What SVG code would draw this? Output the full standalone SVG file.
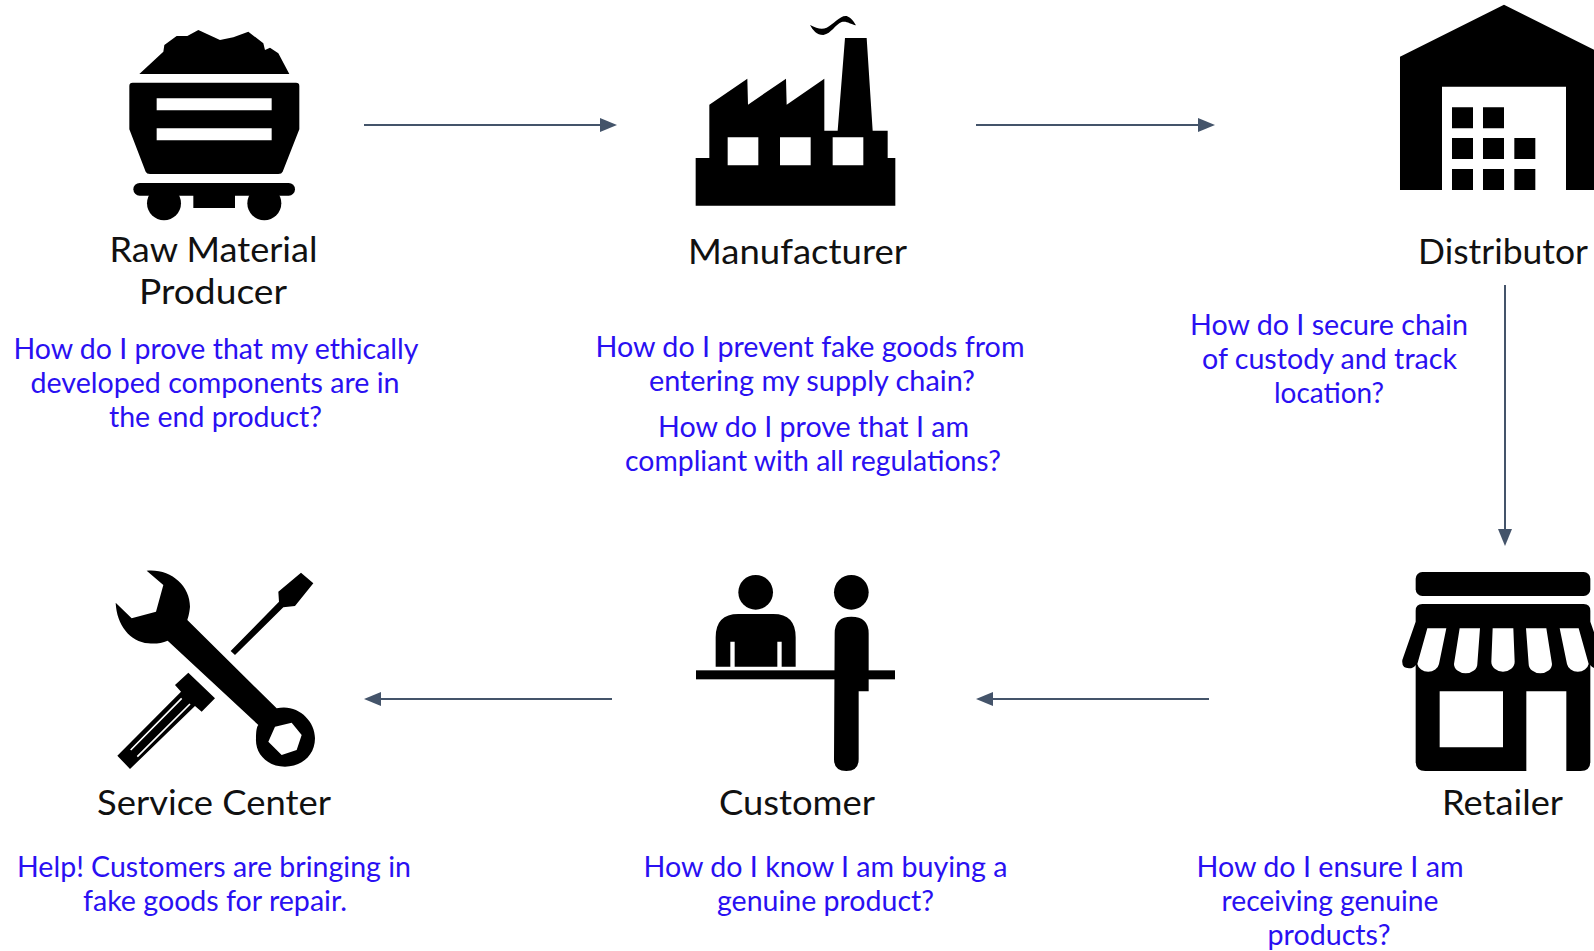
<svg xmlns="http://www.w3.org/2000/svg" width="1594" height="951" viewBox="0 0 1594 951">
<style>
.l{font-family:"Lato","Carlito","Liberation Sans",sans-serif;font-size:34.5px;fill:#111}
.q{font-family:"Lato","Carlito","Liberation Sans",sans-serif;font-size:28px;fill:#2a10f2}
.c{stroke:#44546a;stroke-width:2;fill:none;marker-end:url(#a)}
.i{fill-rule:evenodd}
</style>
<defs><marker id="a" markerUnits="userSpaceOnUse" markerWidth="18" markerHeight="18" refX="0" refY="9" orient="auto"><path d="M0 2L17 9L0 16Z" fill="#44546a"/></marker></defs>
<rect width="1594" height="951" fill="#fff"/>
<g id="connectors">
<line class="c" x1="364" y1="125" x2="600" y2="125"/>
<line class="c" x1="976" y1="125" x2="1198" y2="125"/>
<line class="c" x1="1505" y1="285" x2="1505" y2="529"/>
<line class="c" x1="1209" y1="699" x2="993" y2="699"/>
<line class="c" x1="612" y1="699" x2="381" y2="699"/>
</g>
<g id="raw-material-producer">
<g transform="translate(100 0) scale(.33333)">
<path d="M118 222L190 155L193 135L230 108L262 108L295 90L360 120L400 112L445 95L490 130L495 150L510 143L535 160L568 222Z"/>
<path class="i" d="M88 258Q88 248 98 248H588Q598 248 598 258V388L548 515Q545 522 535 522H150Q140 522 137 515L88 388ZM170 295V331H515V295ZM170 385V421H515V385Z"/>
<rect x="100" y="549" width="485" height="38" rx="19"/>
<circle cx="192" cy="610" r="51"/><circle cx="493" cy="610" r="51"/>
<rect x="280" y="580" width="125" height="44"/>
</g>
<text class="l" x="109.500" y="262" textLength="208" lengthAdjust="spacingAndGlyphs">Raw Material</text>
<text class="l" x="139" y="304" textLength="148" lengthAdjust="spacingAndGlyphs">Producer</text>
<text class="q" x="13.500" y="359" textLength="405" lengthAdjust="spacingAndGlyphs">How do I prove that my ethically</text>
<text class="q" x="30.500" y="393" textLength="369" lengthAdjust="spacingAndGlyphs">developed components are in</text>
<text class="q" x="109" y="427" textLength="213" lengthAdjust="spacingAndGlyphs">the end product?</text>
</g>
<g id="manufacturer">
<g transform="translate(660 0) scale(.33333)">
<path class="i" d="M107 474H148V314L262 236L264 314L378 236L380 314L493 236V392H533L555 114H620L638 392H683V474H706V617H107ZM203 412V496H295V412ZM360 412V496H452V412ZM518 412V496H610V412Z"/>
<path d="M450 75C470 85 485 90 500 83C520 73 540 45 560 48C572 52 582 65 588 76C570 72 560 62 545 66C525 74 515 100 490 105C470 105 458 90 450 75Z"/>
</g>
<text class="l" x="688" y="264" textLength="219" lengthAdjust="spacingAndGlyphs">Manufacturer</text>
<text class="q" x="595.500" y="357" textLength="429" lengthAdjust="spacingAndGlyphs">How do I prevent fake goods from</text>
<text class="q" x="649" y="391" textLength="326" lengthAdjust="spacingAndGlyphs">entering my supply chain?</text>
<text class="q" x="658" y="437" textLength="311" lengthAdjust="spacingAndGlyphs">How do I prove that I am</text>
<text class="q" x="625" y="471" textLength="376" lengthAdjust="spacingAndGlyphs">compliant with all regulations?</text>
</g>
<g id="distributor">
<g transform="translate(1354 0) scale(.33333)">
<path class="i" d="M138 170L450 14L762 170V570H636V260H264V570H138Z"/>
<path d="M294 322h63v63h-63zM387 322h63v63h-63zM294 414h63v63h-63zM387 414h63v63h-63zM481 414h63v63h-63zM294 507h63v63h-63zM387 507h63v63h-63zM481 507h63v63h-63z"/>
</g>
<text class="l" x="1418" y="264" textLength="170" lengthAdjust="spacingAndGlyphs">Distributor</text>
<text class="q" x="1190" y="335" textLength="278" lengthAdjust="spacingAndGlyphs">How do I secure chain</text>
<text class="q" x="1202" y="369" textLength="255" lengthAdjust="spacingAndGlyphs">of custody and track</text>
<text class="q" x="1274" y="403" textLength="110" lengthAdjust="spacingAndGlyphs">location?</text>
</g>
<g id="retailer">
<g transform="translate(1354 540) scale(.33333)">
<rect x="185" y="96" width="524" height="72" rx="20"/>
<path class="i" d="M205 192H689Q709 192 709 212V245L749 360Q752 385 729 385Q715 385 709 375V665Q709 693 680 693H637V454H517V693H214Q185 693 185 665V375Q179 385 165 385Q142 385 145 360L185 245V212Q185 192 205 192ZM257 454V622H447V454ZM220 265L190 372A33 28 0 0 0 255 372L277 265ZM317 265L300 372A35 28 0 0 0 370 372L378 265ZM416 265L412 365A35 30 0 0 0 482 365L478 265ZM516 265L524 372A35 28 0 0 0 594 372L577 265ZM617 265L639 372A33 28 0 0 0 704 372L674 265Z"/>
</g>
<text class="l" x="1442" y="815" textLength="121" lengthAdjust="spacingAndGlyphs">Retailer</text>
<text class="q" x="1196.500" y="877" textLength="267" lengthAdjust="spacingAndGlyphs">How do I ensure I am</text>
<text class="q" x="1221.500" y="911" textLength="217" lengthAdjust="spacingAndGlyphs">receiving genuine</text>
<text class="q" x="1267.500" y="945" textLength="123" lengthAdjust="spacingAndGlyphs">products?</text>
</g>
<g id="customer">
<g transform="translate(660 550) scale(.33333)">
<circle cx="287" cy="127" r="52"/><circle cx="574" cy="127" r="52"/>
<path d="M167 350V262Q167 192 235 192H340Q407 192 407 262V350H365V275H352V350H224V275H211V350Z"/>
<rect x="108" y="361" width="597" height="27"/>
<path d="M524 250Q524 200 574 200Q626 200 626 250V424H596V628Q596 663 559 663Q522 663 522 628Z"/>
</g>
<text class="l" x="719" y="815" textLength="156" lengthAdjust="spacingAndGlyphs">Customer</text>
<text class="q" x="643.500" y="877" textLength="364" lengthAdjust="spacingAndGlyphs">How do I know I am buying a</text>
<text class="q" x="717" y="911" textLength="217" lengthAdjust="spacingAndGlyphs">genuine product?</text>
</g>
<g id="service-center">
<g transform="translate(100 550) scale(.33333)">
<path class="i" d="M140 62C210 55 270 105 270 170C268 190 265 200 262 210L530 475C590 460 645 510 645 565C645 620 600 650 555 650C500 650 465 610 468 565C468 545 470 530 475 525L203 272C185 280 165 282 145 280C90 275 50 225 47 158L95 205L168 185L190 105ZM505 575L525 530L575 518L605 555L590 600L545 615Z"/>
<path d="M392 303L405 315L550 172L585 168L640 100L603 68L535 125L537 155Z"/>
<path d="M225 405L265 368L345 445L305 485L285 468L90 657L52 617L243 425Z"/>
<path d="M92 600L245 445M112 620L270 462" stroke="#fff" stroke-width="5" fill="none"/>
</g>
<text class="l" x="97" y="815" textLength="234" lengthAdjust="spacingAndGlyphs">Service Center</text>
<text class="q" x="17" y="877" textLength="394" lengthAdjust="spacingAndGlyphs">Help! Customers are bringing in</text>
<text class="q" x="83" y="911" textLength="264" lengthAdjust="spacingAndGlyphs">fake goods for repair.</text>
</g>
</svg>
